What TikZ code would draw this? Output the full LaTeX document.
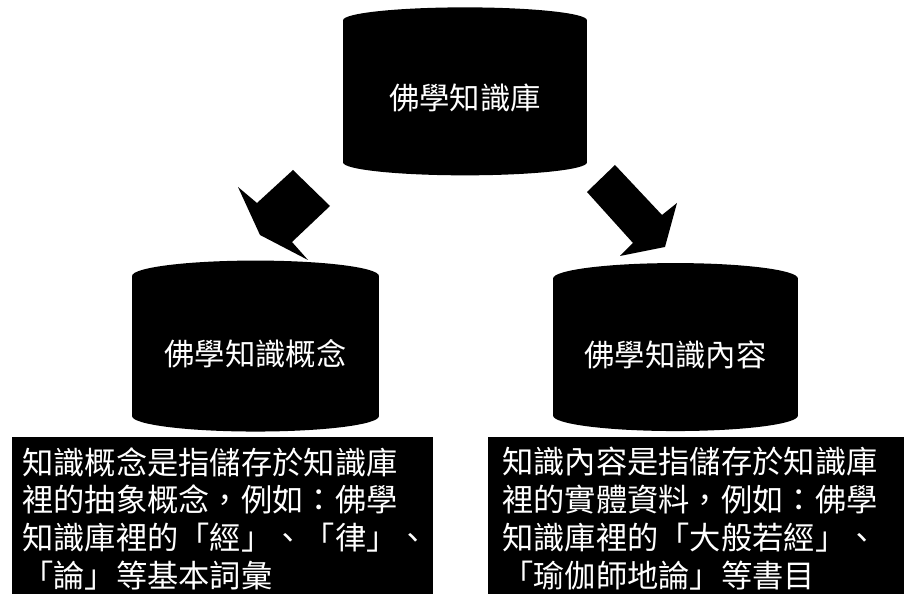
\documentclass[tikz,border=0pt]{standalone}
\usepackage{fontspec}
\newfontfamily\cjk{Noto Sans CJK TC}
\usetikzlibrary{shapes.geometric, positioning}

\begin{document}
\begin{tikzpicture}[
        x=0.02cm, y=0.02cm,
        store/.style={cylinder, shape border rotate=90, aspect=0.17, fill=black, text=white, inner sep=0pt, font=\cjk\fontsize{17.3}{20}\selectfont},
        note/.style={rectangle, fill=black, text=white, anchor=north west, align=left, inner xsep=0.2cm, inner ysep=0.2cm, font=\cjk\fontsize{17.8}{21.5}\selectfont},
        blockarrow/.style={fill=black}
    ]
    \clip (0,0) rectangle (904,594);
    % Nodes
    \node [store, minimum width=4.88cm, minimum height=3.36cm] (kb) at (465,496) {佛學知識庫};
    \node [store, minimum width=4.94cm, minimum height=3.42cm] (concept) at (255.5,240) {佛學知識概念};
    \node [store, minimum width=4.9cm, minimum height=3.36cm] (content) at (675.5,239) {佛學知識內容};

    % Descriptions
    \node [note, text width=8.02cm] (conceptnote) at (12,157) {知識概念是指儲存於知識庫\\裡的抽象概念，例如：佛學\\知識庫裡的「經」、「律」、\\「論」等基本詞彙};
    \node [note, text width=8.2cm, inner xsep=0.28cm] (contentnote) at (488,157) {知識內容是指儲存於知識庫\\裡的實體資料，例如：佛學\\知識庫裡的「大般若經」、\\「瑜伽師地論」等書目};

    % Arrows
    \fill [blockarrow] (293,424) -- (330,388) -- (292,352) -- (308,334) -- (260,359) -- (238,407) -- (257,391) -- cycle;
    \fill [blockarrow] (615,429) -- (662,379) -- (677,391) -- (665,347) -- (620,338) -- (633,351) -- (587,402) -- cycle;
\end{tikzpicture}
\end{document}
